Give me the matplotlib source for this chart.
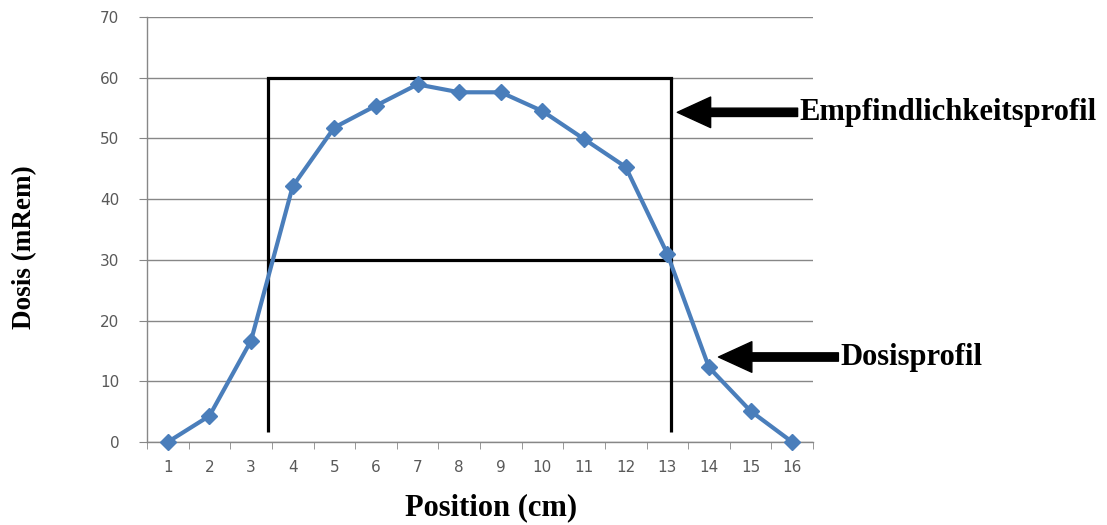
import matplotlib
matplotlib.use("Agg")
import matplotlib.pyplot as plt

# Dose measured along the detector
positions = list(range(1, 17))
dose = [0, 4.3, 16.7, 42.1, 51.8, 55.4, 58.9, 57.6, 57.6, 54.5, 49.9, 45.3, 31.0, 12.3, 5.1, 0]

# Sensitivity profile outline (position / dose units)
box_left, box_right = 3.4, 13.1
box_top, box_mid, box_bottom = 60, 30, 1.6

y_ticks = [0, 10, 20, 30, 40, 50, 60, 70]

annotations = [
    ("Empfindlichkeitsprofil", (13.24, 54.3), (16.13, 54.3)),
    ("Dosisprofil", (14.23, 14.0), (17.11, 14.0)),
]

W, H = 1107, 525
fig = plt.figure(figsize=(W / 100, H / 100), dpi=100)
ax = fig.add_axes([147 / W, 1 - 442 / H, (813 - 147) / W, (442 - 17) / H])

grid_col = "#878787"
label_col = "#595959"
serif = ["Liberation Serif", "DejaVu Serif"]

ax.set_xlim(0.5, 16.5)
ax.set_ylim(0, 70)
ax.set_yticks(y_ticks)
ax.yaxis.grid(True, color=grid_col, linewidth=1.0)
ax.set_axisbelow(True)

for side in ("top", "right"):
    ax.spines[side].set_visible(False)
for side in ("left", "bottom"):
    ax.spines[side].set_color(grid_col)
    ax.spines[side].set_linewidth(1.0)

ax.set_xticks(positions)
ax.set_xticklabels([str(p) for p in positions])
ax.set_xticks([p + 0.5 for p in range(0, 17)], minor=True)
ax.tick_params(axis="x", which="major", length=0, pad=13, labelsize=11, labelcolor=label_col)
ax.tick_params(axis="x", which="minor", length=5, color=grid_col, direction="out")
ax.tick_params(axis="y", which="major", length=6, color=grid_col, pad=14, labelsize=11, labelcolor=label_col)

# Sensitivity profile box
ax.plot([box_left, box_left], [box_bottom, box_top], color="black", lw=2.3, solid_capstyle="butt", zorder=3)
ax.plot([box_right, box_right], [box_bottom, box_top], color="black", lw=2.3, solid_capstyle="butt", zorder=3)
ax.plot([box_left, box_right], [box_top, box_top], color="black", lw=2.3, solid_capstyle="projecting", zorder=3)
ax.plot([box_left, box_right], [box_mid, box_mid], color="black", lw=2.3, solid_capstyle="butt", zorder=3)

# Dose profile
ax.plot(positions, dose, color="#4A7EBB", lw=3.0, marker="D", markersize=8,
        markerfacecolor="#4A7EBB", markeredgecolor="#4A7EBB", zorder=4, clip_on=False)

for text, tip, tail in annotations:
    ax.annotate("", xy=tip, xytext=tail, xycoords="data", textcoords="data",
                annotation_clip=False,
                arrowprops=dict(arrowstyle="simple,head_length=24,head_width=22,tail_width=6",
                                mutation_scale=1, color="black", shrinkA=0, shrinkB=0))
    ax.text(tail[0] + 0.05, tail[1], text, ha="left", va="center", fontsize=22,
            fontweight="bold", family=serif, clip_on=False)

fig.text(491 / W, 1 - 508 / H, "Position (cm)", ha="center", va="center",
         fontsize=22, fontweight="bold", family=serif)
fig.text(25 / W, 1 - 247 / H, "Dosis (mRem)", rotation=90, ha="center", va="center",
         fontsize=19.5, fontweight="bold", family=serif)

fig.savefig("out.png", dpi=100)
